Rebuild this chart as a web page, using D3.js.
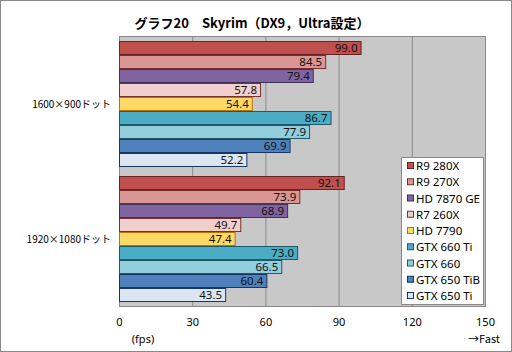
<!DOCTYPE html>
<html>
<head>
<meta charset="utf-8">
<script src="https://cdn.jsdelivr.net/npm/d3@7"></script>
<style>
  body { margin: 0; background: #fff; }
  svg { display: block; font-family: "Noto Sans CJK JP", "Noto Sans", sans-serif; }
</style>
</head>
<body>
<div id="chart"></div>
<script>
const categories = ["1600×900ドット", "1920×1080ドット"];
const series = ["R9 280X", "R9 270X", "HD 7870 GE", "R7 260X", "HD 7790",
                "GTX 660 Ti", "GTX 660", "GTX 650 TiB", "GTX 650 Ti"];
const values1600 = [99.0, 84.5, 79.4, 57.8, 54.4, 86.7, 77.9, 69.9, 52.2];
const values1920 = [92.1, 73.9, 68.9, 49.7, 47.4, 73.0, 66.5, 60.4, 43.5];
const ticks = [0, 30, 60, 90, 120, 150];

const fills = ["#c0504d", "#d99694", "#8064a2", "#f2cfcf", "#ffd966",
               "#4bacc6", "#92cddc", "#4f81bd", "#dce6f2"];
const strokes = ["#632523", "#7a2f2d", "#3f3151", "#7a2f2d", "#c07000",
                 "#215968", "#215968", "#17375e", "#17375e"];

const width = 512, height = 352,
      margin = ({ top: 36, right: 27, bottom: 46, left: 119 });

const data = categories.map((c, i) => ({
    cat: c,
    vals: series.map((s, j) => ({ name: s, v: (i === 0 ? values1600 : values1920)[j], k: j }))
}));

let svg = d3.select("#chart")
    .append("svg")
    .attr("width", width)
    .attr("height", height);

// outer frame
svg.append("rect")
    .attr("x", 0.5).attr("y", 0.5)
    .attr("width", width - 1).attr("height", height - 1)
    .attr("fill", "#fff").attr("stroke", "#888");

svg.append("text")
    .attr("x", 252).attr("y", 28)
    .attr("text-anchor", "middle")
    .attr("font-size", 13).attr("font-weight", "bold")
    .text("グラフ20　Skyrim（DX9，Ultra設定）");

let x = d3.scaleLinear()
    .domain([0, 150])
    .range([margin.left, width - margin.right]);

let y = d3.scaleBand()
    .domain(categories)
    .range([margin.top, height - margin.bottom]);

let y1 = d3.scaleBand()
    .domain(series)
    .range([5, y.bandwidth() - 4]);

// plot background
svg.append("rect")
    .attr("x", x(0)).attr("y", margin.top)
    .attr("width", x(150) - x(0)).attr("height", height - margin.bottom - margin.top)
    .attr("fill", "#c8c8c8");

// gridlines
svg.append("g")
    .selectAll("line")
    .data(ticks.slice(1, -1))
    .join("line")
    .attr("x1", d => x(d) + 0.5).attr("x2", d => x(d) + 0.5)
    .attr("y1", margin.top).attr("y2", height - margin.bottom)
    .attr("stroke", "#8a8a8a");

svg.append("rect")
    .attr("x", x(0) + 0.5).attr("y", margin.top + 0.5)
    .attr("width", x(150) - x(0)).attr("height", height - margin.bottom - margin.top)
    .attr("fill", "none").attr("stroke", "#8a8a8a");

// x tick labels
svg.append("g")
    .attr("transform", `translate(0,${height - margin.bottom})`)
    .call(d3.axisBottom(x).tickValues(ticks).tickSize(0).tickPadding(12))
    .call(g => g.select(".domain").remove())
    .call(g => g.selectAll("text").attr("font-size", 11).attr("font-family", "Noto Sans, sans-serif").attr("fill", "#000"));

svg.append("text")
    .attr("x", 143).attr("y", 343)
    .attr("text-anchor", "middle").attr("font-size", 11)
    .attr("font-family", "Noto Sans, sans-serif")
    .text("(fps)");

svg.append("text")
    .attr("x", 500).attr("y", 343)
    .attr("text-anchor", "end").attr("font-size", 11)
    .text("→Fast");

// category labels
svg.append("g")
    .selectAll("text")
    .data(categories)
    .join("text")
    .attr("x", 111)
    .attr("y", d => y(d) + y.bandwidth() / 2 + 4)
    .attr("text-anchor", "end")
    .attr("font-size", 10)
    .text(d => d);

// bars
let group = svg.selectAll(".grp")
    .data(data)
    .join("g")
    .attr("class", "grp")
    .attr("transform", d => `translate(0,${y(d.cat)})`);

group.selectAll("rect")
    .data(d => d.vals)
    .join("rect")
    .attr("x", x(0) + 0.5)
    .attr("y", d => y1(d.name) + 0.5)
    .attr("width", d => x(d.v) - x(0))
    .attr("height", y1.bandwidth() - 1)
    .attr("fill", d => fills[d.k])
    .attr("stroke", d => strokes[d.k]);

group.selectAll("text")
    .data(d => d.vals)
    .join("text")
    .attr("x", d => x(d.v) - 3)
    .attr("y", d => y1(d.name) + y1.bandwidth() / 2 + 4)
    .attr("text-anchor", "end")
    .attr("font-size", 11.5)
    .attr("font-family", "Noto Sans, sans-serif")
    .attr("fill", "#111")
    .text(d => d.v.toFixed(1));

// legend
let lg = svg.append("g").attr("transform", "translate(401,157)");
lg.append("rect")
    .attr("x", 0.5).attr("y", 0.5)
    .attr("width", 82).attr("height", 147)
    .attr("fill", "#fff").attr("stroke", "#888");

let item = lg.selectAll(".item")
    .data(series)
    .join("g")
    .attr("class", "item")
    .attr("transform", (d, i) => `translate(6,${9 + i * 16.25})`);

item.append("rect")
    .attr("x", 0.5).attr("y", -3.5)
    .attr("width", 6).attr("height", 6)
    .attr("fill", (d, i) => fills[i])
    .attr("stroke", (d, i) => strokes[i]);

item.append("text")
    .attr("x", 9).attr("y", 4)
    .attr("font-size", 11.5)
    .attr("font-family", "Noto Sans, sans-serif")
    .text(d => d);
</script>
</body>
</html>
